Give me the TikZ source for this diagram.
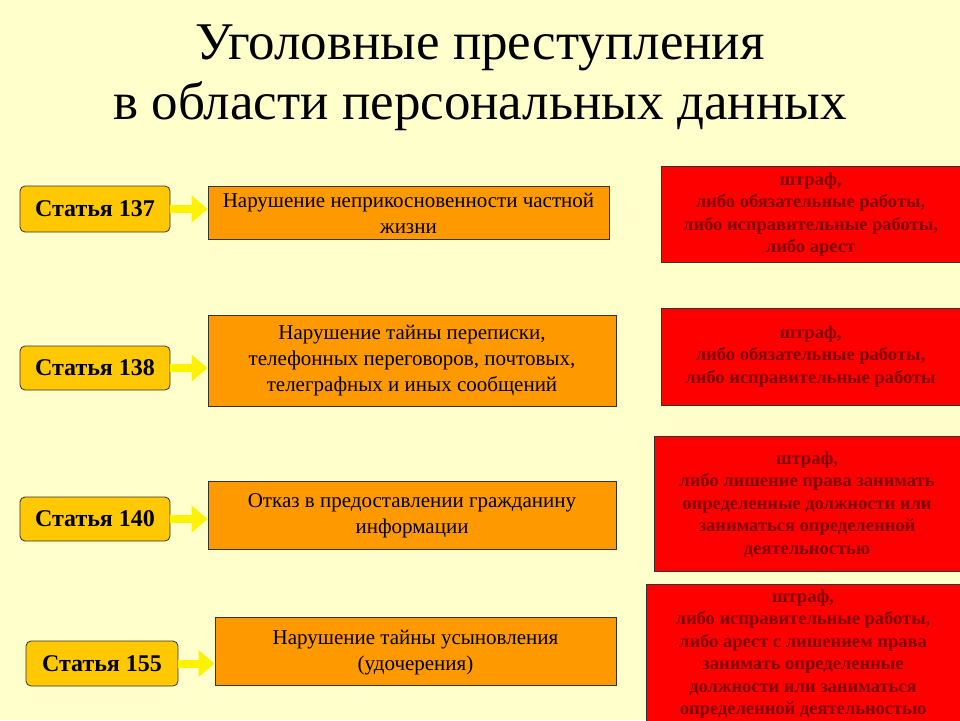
\documentclass[tikz,border=0pt]{standalone}
\usepackage{fontspec}
\setmainfont{Liberation Serif}
\usetikzlibrary{arrows.meta}
\definecolor{bg}{HTML}{FFFFCC}
\definecolor{art}{HTML}{FFC800}
\definecolor{orng}{HTML}{FF9900}
\definecolor{rd}{HTML}{FF0000}
\definecolor{rtxt}{HTML}{800000}
\tikzset{
 artbox/.style={draw=black!80,fill=art,rounded corners=5pt,line width=0.8pt,font=\fontsize{24}{28}\selectfont\bfseries,inner sep=0pt},
 descbox/.style={draw=black!80,fill=orng,line width=0.8pt,font=\fontsize{21}{26}\selectfont,align=center,inner sep=0pt},
 penbox/.style={draw=black!80,fill=rd,line width=0.8pt,inner sep=0pt},
 desctxt/.style={font=\fontsize{21}{26}\selectfont,align=center,anchor=north},
 pentxt/.style={font=\fontsize{18.5}{22.5}\selectfont\bfseries,text=rtxt,align=center,anchor=north},
 yarrow/.style={draw=yellow,line width=8pt,-{Triangle[length=16pt,width=26pt]}},
}
\begin{document}
\begin{tikzpicture}[x=1pt,y=-1pt]
\fill[bg] (0,0) rectangle (960,720);
\useasboundingbox (0,0) rectangle (960,720);
\node[font=\fontsize{53}{60}\selectfont,align=center] (title) at (480,78) {Уголовные преступления\\в области персональных данных};
% row 1
\node[artbox,minimum width=150,minimum height=46] (a1) at (95,209) {Статья 137};
\node[descbox,minimum width=401,minimum height=53] (d1) at (408.5,212.5) {};
\node[desctxt] at (408.5,190) {Нарушение неприкосновенности частной\\жизни};
\node[penbox,minimum width=299,minimum height=96,anchor=north west] (p1) at (661,166) {};
\node[pentxt] at (810.5,169) {штраф,\\либо обязательные работы,\\либо исправительные работы,\\либо арест};
% row 2
\node[artbox,minimum width=150,minimum height=44] (a2) at (95,368) {Статья 138};
\node[descbox,minimum width=408,minimum height=91] (d2) at (412,360.5) {Нарушение тайны переписки,\\телефонных переговоров, почтовых,\\телеграфных и иных сообщений};
\node[penbox,minimum width=299,minimum height=97,anchor=north west] (p2) at (661,308) {};
\node[pentxt] at (810.5,322) {штраф,\\либо обязательные работы,\\либо исправительные работы};
% row 3
\node[artbox,minimum width=150,minimum height=44] (a3) at (95,519) {Статья 140};
\node[descbox,minimum width=408,minimum height=68] (d3) at (412,515) {};
\node[desctxt] at (412,490) {Отказ в предоставлении гражданину\\информации};
\node[penbox,minimum width=306,minimum height=135,anchor=north west] (p3) at (654,436) {};
\node[pentxt] at (807,448) {штраф,\\либо лишение права занимать\\определенные должности или\\заниматься определенной\\деятельностью};
% row 4
\node[artbox,minimum width=152,minimum height=45] (a4) at (102,663.5) {Статья 155};
\node[descbox,minimum width=401,minimum height=68] (d4) at (415.5,651) {};
\node[desctxt] at (415.5,627) {Нарушение тайны усыновления\\(удочерения)};
\node[penbox,minimum width=314,minimum height=140,anchor=north west] (p4) at (646,584) {};
\node[pentxt] at (803,586) {штраф,\\либо исправительные работы,\\либо арест с лишением права\\занимать определенные\\должности или заниматься\\определенной деятельностью};
% arrows
\draw[yarrow] (a1.east) -- (a1.east -| d1.west);
\draw[yarrow] (a2.east) -- (a2.east -| d2.west);
\draw[yarrow] (a3.east) -- (a3.east -| d3.west);
\draw[yarrow] (a4.east) -- (a4.east -| d4.west);
\end{tikzpicture}
\end{document}
